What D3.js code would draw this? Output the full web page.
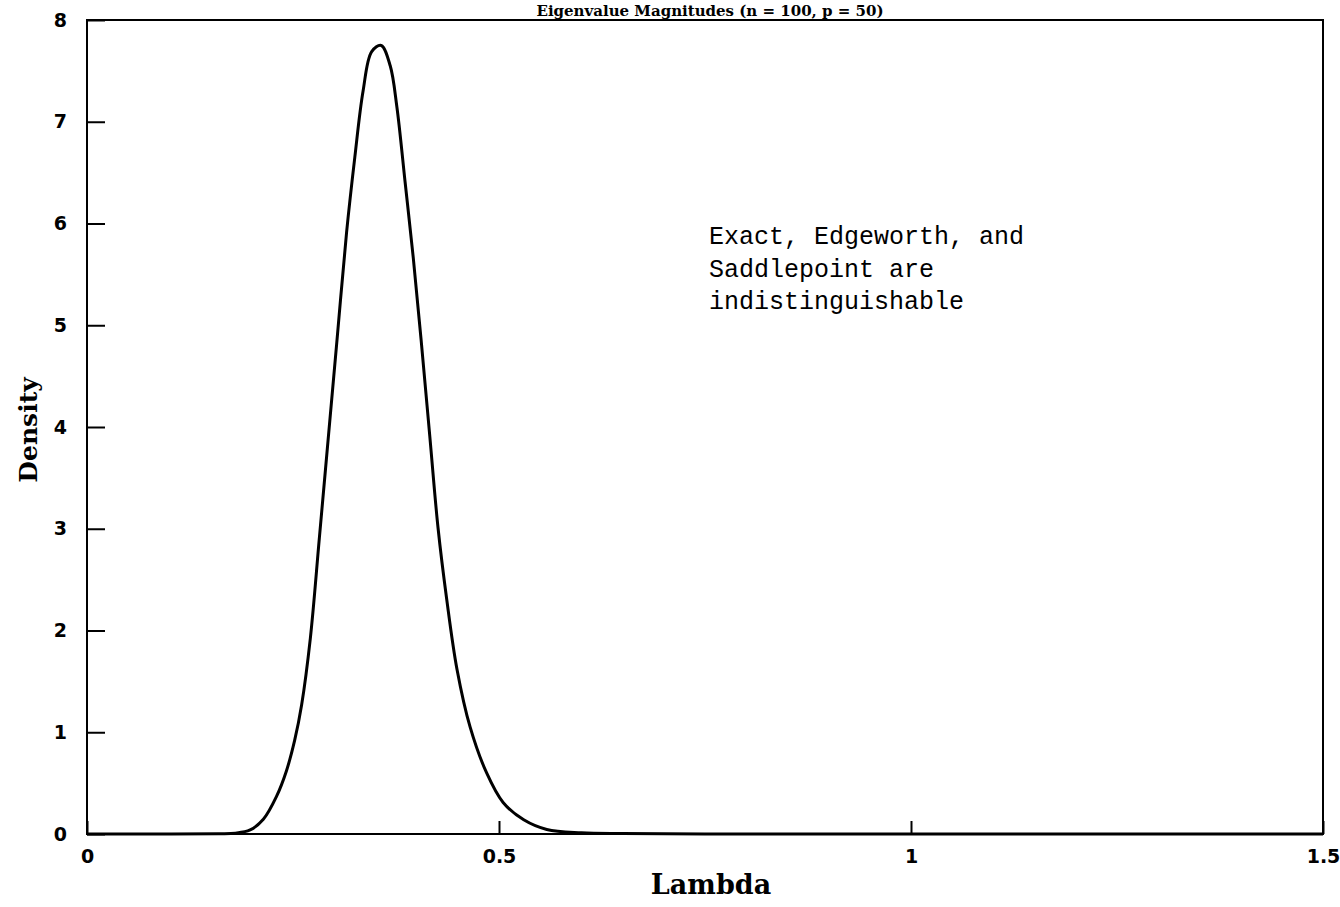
<!DOCTYPE html>
<html>
<head>
<meta charset="utf-8">
<script src="https://cdn.jsdelivr.net/npm/d3@7"></script>
<style>
  body { margin: 0; background: #fff; }
  svg { display: block; }
  .tick text { font-family: "DejaVu Sans", sans-serif; font-weight: bold; font-size: 19px; fill: #000; }
</style>
</head>
<body>
<svg id="chart"></svg>
<script>
// density curve
const lambdaValues = [0, 0.10, 0.16, 0.18, 0.198, 0.214, 0.230, 0.242, 0.252, 0.2605, 0.271, 0.282,
  0.293, 0.304, 0.315, 0.325, 0.335, 0.3455, 0.357, 0.368, 0.376, 0.386, 0.396, 0.406, 0.416,
  0.426, 0.4365, 0.449, 0.465, 0.485, 0.505, 0.53, 0.558, 0.60, 0.65, 0.75, 1.0, 1.25, 1.5];
const densityValues = [0, 0, 0.003, 0.008, 0.04, 0.145, 0.37, 0.62, 0.92, 1.27, 1.92, 2.91,
  3.91, 4.91, 5.91, 6.65, 7.30, 7.69, 7.75, 7.55, 7.15, 6.41, 5.66, 4.81, 3.91,
  3.01, 2.31, 1.62, 1.05, 0.60, 0.31, 0.14, 0.045, 0.012, 0.004, 0.001, 0, 0, 0];

const xTicks = [0, 0.5, 1, 1.5];
const xTickLabels = ['0', '0.5', '1', '1.5'];
const yTicks = [0, 1, 2, 3, 4, 5, 6, 7, 8];

const titleText = 'Eigenvalue Magnitudes (n = 100, p = 50)';
const noteLines = ['Exact, Edgeworth, and', 'Saddlepoint are', 'indistinguishable'];

const width = 1340;
const height = 907;
const plotLeft = 87, plotRight = 1323, plotTop = 20, plotBottom = 834;

const svg = d3.select('#chart')
  .attr('width', width)
  .attr('height', height)
  .attr('viewBox', [0, 0, width, height]);

const x = d3.scaleLinear().domain([0, 1.5]).range([plotLeft, plotRight]);
const y = d3.scaleLinear().domain([0, 8]).range([plotBottom, plotTop]);

// title (cut off in the scan, kept whole here)
svg.append('text')
    .attr('x', 710)
    .attr('y', 15.5)
    .attr('text-anchor', 'middle')
    .attr('font-family', '"DejaVu Serif", serif')
    .attr('font-weight', 'bold')
    .attr('font-size', 15)
    .text(titleText);

// frame
svg.append('rect')
    .attr('x', plotLeft)
    .attr('y', plotTop)
    .attr('width', plotRight - plotLeft)
    .attr('height', plotBottom - plotTop)
    .attr('fill', 'none')
    .attr('stroke', '#000')
    .attr('stroke-width', 2);

const xAxis = svg.append('g')
    .attr('transform', `translate(0,${plotBottom})`)
    .call(d3.axisBottom(x)
      .tickValues(xTicks)
      .tickFormat((d, i) => xTickLabels[i])
      .tickSize(-13)
      .tickPadding(16));
xAxis.select('.domain').remove();
xAxis.selectAll('line').attr('stroke-width', 2);

const yAxis = svg.append('g')
    .attr('transform', `translate(${plotLeft},0)`)
    .call(d3.axisLeft(y)
      .tickValues(yTicks)
      .tickSize(-18)
      .tickPadding(20));
yAxis.select('.domain').remove();
yAxis.selectAll('line').attr('stroke-width', 2);

// axis titles
svg.append('text')
    .attr('x', 711)
    .attr('y', 894)
    .attr('text-anchor', 'middle')
    .attr('font-family', '"DejaVu Serif", serif')
    .attr('font-weight', 'bold')
    .attr('font-size', 27)
    .text('Lambda');

svg.append('text')
    .attr('transform', 'translate(37,430) rotate(-90)')
    .attr('text-anchor', 'middle')
    .attr('font-family', '"DejaVu Serif", serif')
    .attr('font-weight', 'bold')
    .attr('font-size', 25)
    .text('Density');

// the curve
const points = lambdaValues.map((l, i) => [l, densityValues[i]]);
svg.append('path')
    .datum(points)
    .attr('fill', 'none')
    .attr('stroke', '#000')
    .attr('stroke-width', 3)
    .attr('stroke-linejoin', 'round')
    .attr('d', d3.line()
      .x(d => x(d[0]))
      .y(d => y(Math.max(0, d[1])))
      .curve(d3.curveCatmullRom.alpha(0.5)));

// annotation
svg.append('text')
    .attr('font-family', '"Liberation Mono", monospace')
    .attr('font-size', 25)
    .selectAll('tspan')
    .data(noteLines)
    .join('tspan')
      .attr('x', 709)
      .attr('y', (d, i) => 244 + i * 32.5)
      .text(d => d);
</script>
</body>
</html>
